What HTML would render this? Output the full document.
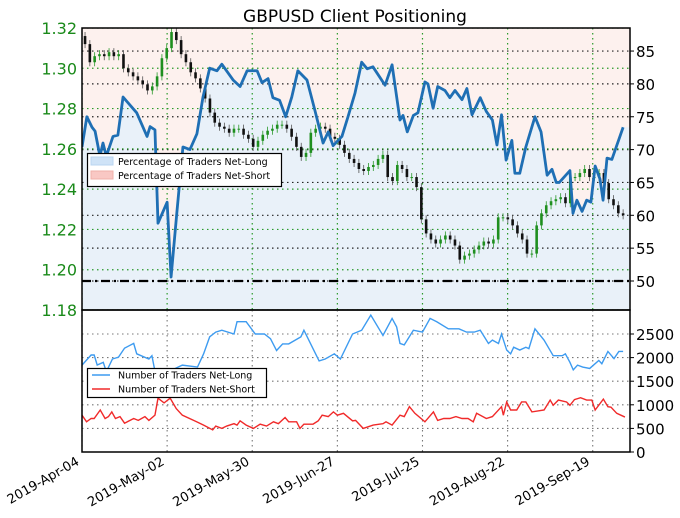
<!DOCTYPE html>
<html><head><meta charset="utf-8"><style>
body{margin:0;background:#fff;width:680px;height:518px;overflow:hidden}
svg{display:block;font-family:"DejaVu Sans","Liberation Sans",sans-serif}
</style></head><body>
<svg id="chart" width="680" height="518"></svg>
<script>
// ---- data ----
const tickDates = ["2019-Apr-04","2019-May-02","2019-May-30","2019-Jun-27","2019-Jul-25","2019-Aug-22","2019-Sep-19"];
const tickDays = [0,28,56,84,112,140,168];
const priceTicks = [1.18,1.20,1.22,1.24,1.26,1.28,1.30,1.32];
const pctTicks = [50,55,60,65,70,75,80,85];
const countTicks = [0,500,1000,1500,2000,2500];
const closes = [1.312,1.303,1.306,1.307,1.306,1.308,1.306,1.307,1.300,1.298,1.296,1.294,1.292,1.289,1.291,1.296,1.305,1.310,1.318,1.314,1.307,1.303,1.298,1.295,1.290,1.285,1.278,1.273,1.271,1.270,1.268,1.270,1.270,1.267,1.265,1.261,1.264,1.267,1.269,1.270,1.272,1.272,1.270,1.266,1.261,1.256,1.258,1.268,1.270,1.271,1.270,1.266,1.265,1.262,1.258,1.255,1.253,1.250,1.249,1.251,1.252,1.255,1.257,1.246,1.244,1.252,1.250,1.246,1.246,1.241,1.225,1.218,1.215,1.213,1.215,1.217,1.215,1.212,1.205,1.207,1.208,1.210,1.212,1.214,1.213,1.215,1.226,1.226,1.225,1.222,1.218,1.215,1.208,1.208,1.222,1.228,1.232,1.234,1.235,1.236,1.233,1.246,1.246,1.248,1.250,1.246,1.246,1.248,1.243,1.235,1.232,1.228,1.227];
const priceStartDay = 1, priceEndDay = 178;
const pctDays = [0,1.6,3.3,4.3,5.9,6.9,8,10.2,11.8,13.5,18,21.4,22.4,24,25,28,29.3,31.2,33.2,35.5,37.8,39.8,42,44.4,46,49.7,52,54.3,57.6,59.2,61.2,62.8,65,67,69,71,74,76.6,79.3,81,82.6,85.5,87.5,89.8,92,93.8,95.7,99.7,102,104.6,105.6,107,109,110.5,112.8,113.8,115.5,117,119.4,121,122.7,125,126.6,128.3,131,133,135,136.5,138,139.5,141.4,142.4,144,146,149,151,153,154.6,156,157,160.5,161.5,162.8,164.5,166,167.4,168.8,170.4,171.4,172.7,174.3,178];
const pctLong = [70.4,75,73.4,72.8,69,71,69,72,72.2,78,75.6,72,73.5,73,58.8,62,50.6,60.4,70.4,70,72.4,78,82.4,82,83,80.6,79.6,82,82,80.2,80.8,77.9,77.5,75,78,82,80.6,76,71,72.7,70.6,72,75,78.6,83.3,82.3,82.6,79.8,82.9,74.5,75.2,72.7,75.2,75.6,80.3,80,76.3,79.6,79,77.9,79,77.6,79.3,75.3,77.9,75.8,74.5,70.7,75.3,68.4,71.4,66.4,66.4,70.4,75,72.7,66.1,67,65,65,66.8,60.3,62.3,60.6,62.3,62,67.5,65.5,62.3,68.7,68.5,73.4];
const longDays = [0,3,4,5,7,8,10,12,14,17,18,22,23,25,27,30,33,38,40,42,44,46,50,51,54,57,60,62,64,66,68,72,73,76,78,80,83,85,89,92,95,99,102,103.5,104.6,106,109,112,114.5,116.7,120.5,124,126.5,129,131,133.7,135,137,138,139.7,141,142,144,146,147,149,152,155,158,159,160.5,161.6,163,164.7,167,170,171,173,175,176.6,178];
const longCounts = [1840,2055,2055,1843,1900,1700,1970,2010,2200,2300,2080,1970,2040,1380,1500,1750,1840,1800,2080,2440,2540,2580,2500,2760,2760,2500,2500,2400,2150,2290,2290,2440,2580,2190,1930,1970,2080,1970,2500,2580,2900,2470,2830,2650,2300,2270,2580,2540,2830,2760,2610,2610,2540,2540,2580,2300,2370,2300,2500,2160,2080,2220,2160,2220,2190,2610,2370,2040,2040,2080,1900,1740,1840,1800,1770,1940,1870,2130,1980,2130,2130];
const shortDays = [0,1.5,3,4,6,7.6,8.7,9.8,11,12.5,14,17,18.5,20.7,22,24,25,27,29,31,33,37.7,40,43,44,46,47.6,50,51,52,54,56.4,58.6,60.7,63,64.6,66.8,68,70.6,71.7,73,76,77.7,79,81,82.7,84,86,89,90,92.5,95.8,99,100,102,104.6,106,107.7,109.5,112.8,115.6,117,119,121,123,125,127,128.7,129.8,133,135,138,138.6,139.7,141,143,144.6,146,148,152,154,155,156.7,159.4,160.5,162,164,166,167.7,168.8,171.5,173,174,175.9,178.6];
const shortCounts = [780,640,710,710,890,710,750,850,710,750,610,710,670,750,670,780,1140,1040,1140,920,780,640,570,470,550,500,550,600,570,660,570,500,590,550,640,600,730,640,640,500,590,590,660,780,750,850,780,820,660,670,500,570,600,640,570,780,750,960,820,640,850,670,710,710,750,710,710,640,820,710,750,960,780,1060,890,890,1060,1060,850,890,1100,990,1100,1060,990,1110,1150,1100,1100,890,1120,960,950,820,740];

// ---- geometry ----
const L=82,R=630,T1=28,B1=310,B2=452;
const NS='http://www.w3.org/2000/svg';
const svg=document.getElementById('chart');
const xDay=d=>L+d*3.04;
const yPrice=p=>310-(p-1.18)/0.14*282;
const yPct=p=>281-(p-50)*6.57;
const yCnt=c=>452-c*0.0472;
function mk(tag,attrs,parent){const e=document.createElementNS(NS,tag);for(const k in attrs)e.setAttribute(k,attrs[k]);(parent||svg).appendChild(e);return e;}

// title
let t=mk('text',{x:355,y:22,'text-anchor':'middle','font-size':17,fill:'#000'});t.textContent='GBPUSD Client Positioning';



// clip
const defs=mk('defs',{});
const cp=mk('clipPath',{id:'c1'},defs);mk('rect',{x:L,y:T1,width:R-L,height:B1-T1},cp);

// top panel background fills
const g1=mk('g',{'clip-path':'url(#c1)'});


let bg=mk('rect',{x:L,y:T1,width:R-L,height:B1-T1,fill:'#fdf1ee'},g1);


let areaD='M'+xDay(pctDays[0])+','+B1;
pctDays.forEach((d,i)=>{areaD+=' L'+xDay(d)+','+yPct(pctLong[i]);});
areaD+=' L'+R+','+yPct(pctLong[pctLong.length-1])+' L'+R+','+B1+' Z';
let ar=mk('path',{d:areaD,fill:'#e9f1f9'},g1);



// gridlines top
pctTicks.forEach(v=>{mk('line',{x1:L,x2:R,y1:yPct(v),y2:yPct(v),stroke:'#222','stroke-width':1.2,'stroke-dasharray':'1.5,3.5'},g1);});
priceTicks.forEach(v=>{mk('line',{x1:L,x2:R,y1:yPrice(v),y2:yPrice(v),stroke:'#2a9a2a','stroke-width':1.2,'stroke-dasharray':'1.5,3.5'},g1);});
tickDays.forEach(d=>{mk('line',{x1:xDay(d),x2:xDay(d),y1:T1,y2:B1,stroke:'#2a9a2a','stroke-width':1.2,'stroke-dasharray':'1.5,3.5'},g1);});
// dash-dot 50 line
let ref=mk('line',{x1:L,x2:R,y1:yPct(50),y2:yPct(50),stroke:'#000','stroke-width':2.2,'stroke-dasharray':'9,4,2,4'},g1);



// candles
const step=(priceEndDay-priceStartDay)/(closes.length-1);
closes.forEach((c,i)=>{
  const o=i>0?closes[i-1]:c+0.004;
  const x=xDay(priceStartDay+i*step);
  const up=c>=o;
  const col=up?'#1f8f1f':'#111';
  const hi=Math.max(o,c)+0.002, lo=Math.min(o,c)-0.002;
  const w=mk('line',{x1:x,x2:x,y1:yPrice(hi),y2:yPrice(lo),stroke:up?'#2a9a2a':'#555','stroke-width':0.8},g1);
  
  
  const top=yPrice(Math.max(o,c)), h=Math.max(1,Math.abs(yPrice(o)-yPrice(c)));
  const b=mk('rect',{x:x-1.3,y:top,width:2.6,height:h,fill:col},g1);
  
  
});

// sentiment line
let pd='';pctDays.forEach((d,i)=>{pd+=(i?' L':'M')+xDay(d)+','+yPct(pctLong[i]);});
let sl=mk('path',{d:pd,fill:'none',stroke:'#1f6fb4','stroke-width':2.8,'stroke-linejoin':'round'},g1);



// top frame
mk('rect',{x:L,y:T1,width:R-L,height:B1-T1,fill:'none',stroke:'#000','stroke-width':1.5});

// left price axis labels
priceTicks.forEach(v=>{let e=mk('text',{x:77,y:yPrice(v)+6,'text-anchor':'end','font-size':16,fill:'#1a8a1a'});e.textContent=v.toFixed(2);

});
// right pct axis
pctTicks.forEach(v=>{mk('line',{x1:R,x2:R+4,y1:yPct(v),y2:yPct(v),stroke:'#000'});let e=mk('text',{x:636,y:yPct(v)+6,'font-size':15,fill:'#000'});e.textContent=v;

});

// top legend
const lg1=mk('g',{});


mk('rect',{x:87.5,y:153.5,width:194,height:33,fill:'#fff',stroke:'#000','stroke-width':1.2},lg1);
mk('rect',{x:91,y:157,width:22,height:8,fill:'#cfe3f7',stroke:'#b8d4f0'},lg1);
mk('rect',{x:91,y:171,width:22,height:8,fill:'#f9c8c4',stroke:'#f0b0aa'},lg1);
let l1=mk('text',{x:118,y:165,'font-size':9.5},lg1);l1.textContent='Percentage of Traders Net-Long';
let l2=mk('text',{x:118,y:179,'font-size':9.5},lg1);l2.textContent='Percentage of Traders Net-Short';

// bottom panel
const g2=mk('g',{});


countTicks.slice(1).forEach(v=>{mk('line',{x1:L,x2:R,y1:yCnt(v),y2:yCnt(v),stroke:'#777','stroke-width':1.1,'stroke-dasharray':'1.5,3.5'},g2);});
tickDays.forEach(d=>{mk('line',{x1:xDay(d),x2:xDay(d),y1:B1,y2:B2,stroke:'#777','stroke-width':1.1,'stroke-dasharray':'1.5,3.5'},g2);});
let ld='';longDays.forEach((d,i)=>{ld+=(i?' L':'M')+xDay(d)+','+yCnt(longCounts[i]);});
let ll=mk('path',{d:ld,fill:'none',stroke:'#3d9bf0','stroke-width':1.4},g2);


let sd='';shortDays.forEach((d,i)=>{sd+=(i?' L':'M')+xDay(d)+','+yCnt(shortCounts[i]);});
let ss=mk('path',{d:sd,fill:'none',stroke:'#f02a2a','stroke-width':1.4},g2);


mk('rect',{x:L,y:B1,width:R-L,height:B2-B1,fill:'none',stroke:'#000','stroke-width':1.5},g2);
countTicks.forEach(v=>{mk('line',{x1:R,x2:R+4,y1:yCnt(v),y2:yCnt(v),stroke:'#000'},g2);let e=mk('text',{x:636,y:yCnt(v)+6,'font-size':15,fill:'#000'},g2);e.textContent=v;

});

// bottom legend
const lg2=mk('g',{});


mk('rect',{x:87.5,y:368.5,width:179,height:29,fill:'#fff',stroke:'#000','stroke-width':1.2},lg2);
mk('line',{x1:92,x2:110,y1:375,y2:375,stroke:'#3d9bf0','stroke-width':1.4},lg2);
mk('line',{x1:92,x2:110,y1:389,y2:389,stroke:'#f02a2a','stroke-width':1.4},lg2);
let l3=mk('text',{x:118,y:378.5,'font-size':9.5},lg2);l3.textContent='Number of Traders Net-Long';
let l4=mk('text',{x:118,y:392.5,'font-size':9.5},lg2);l4.textContent='Number of Traders Net-Short';

// x labels
tickDates.forEach((s,i)=>{const x=xDay(tickDays[i]);let e=mk('text',{x:x-2,y:464,'text-anchor':'end','font-size':13,transform:'rotate(-30 '+(x-2)+' 464)'});e.textContent=s;

});
</script>
</body></html>
